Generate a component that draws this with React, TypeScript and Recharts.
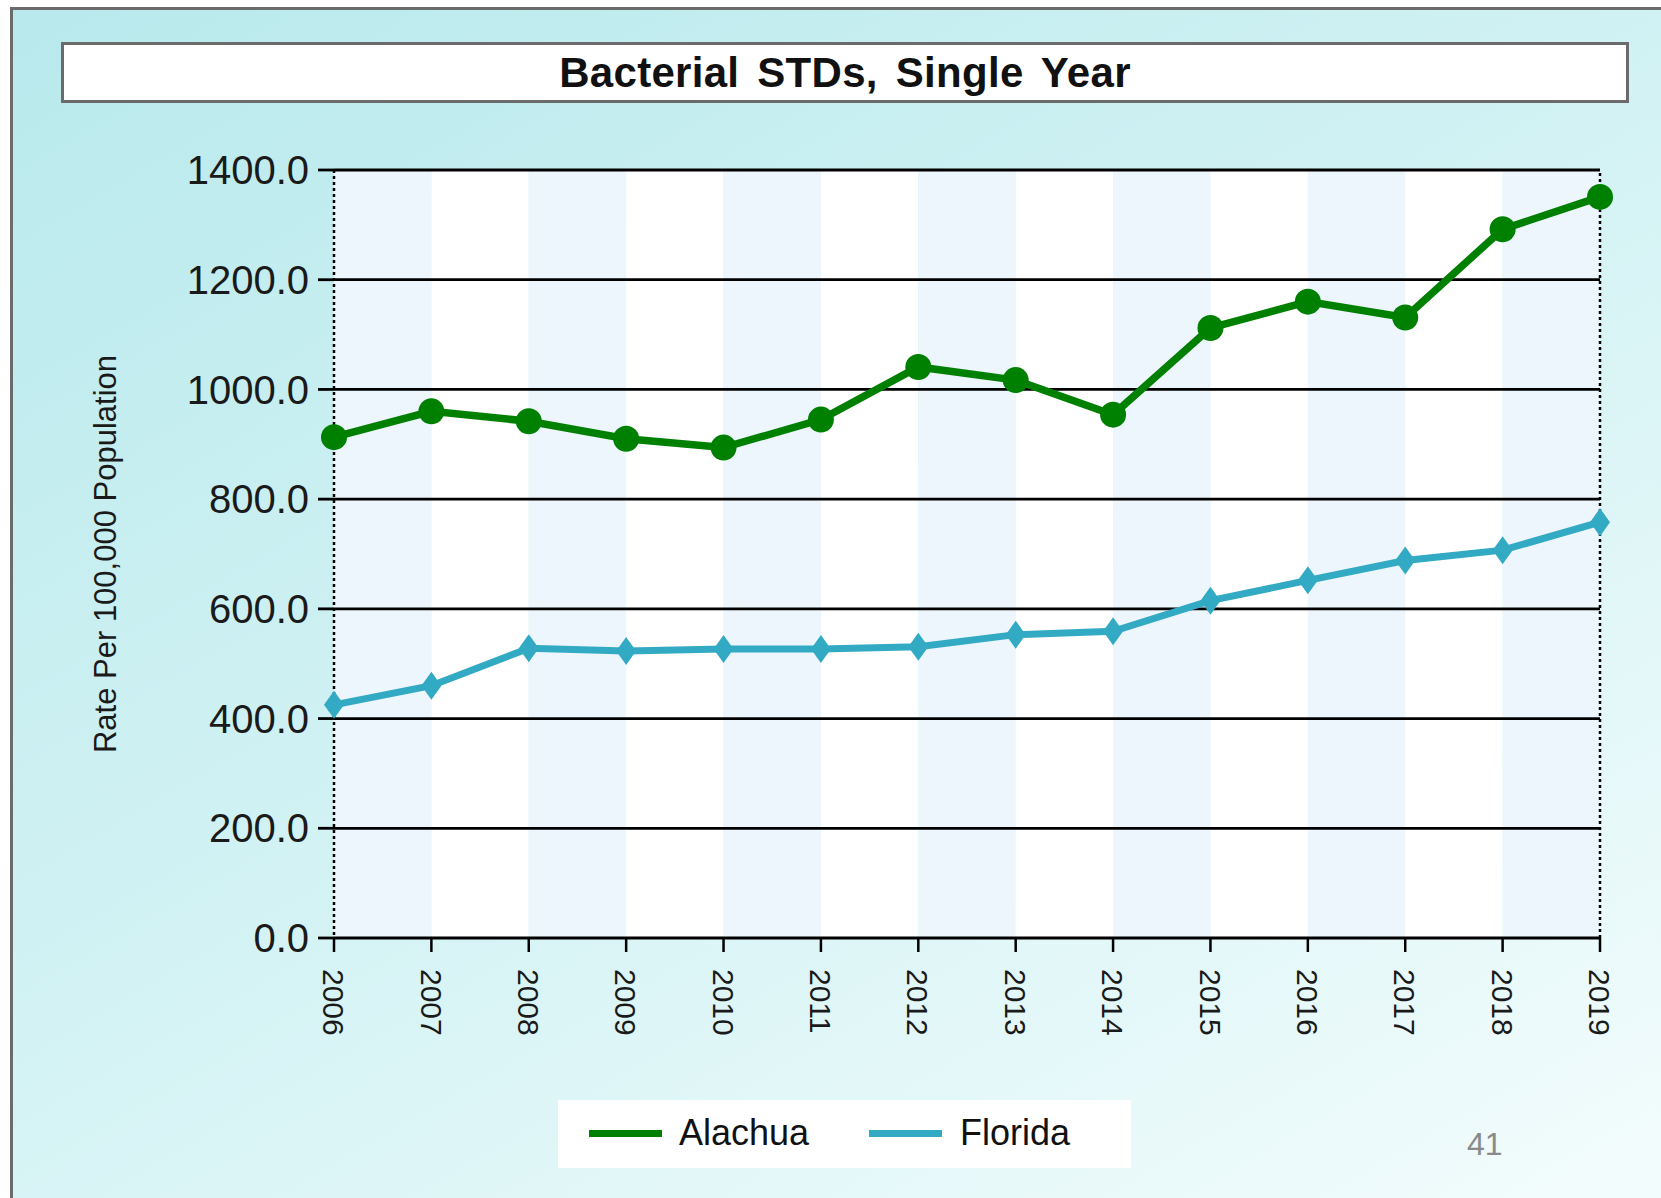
import React from "react";
import { LineChart, Line, XAxis, YAxis, ReferenceArea, ReferenceLine } from "recharts";

const years = [2006, 2007, 2008, 2009, 2010, 2011, 2012, 2013, 2014, 2015, 2016, 2017, 2018, 2019];
const alachua = [913, 960, 942, 910, 894, 945, 1041, 1017, 954, 1112, 1160, 1131, 1292, 1351];
const florida = [425, 460, 528, 523, 527, 527, 531, 553, 559, 615, 652, 688, 707, 758];
const yTicks = [0, 200, 400, 600, 800, 1000, 1200, 1400];
const seriesNames = ["Alachua", "Florida"];
const chartTitle = "Bacterial STDs, Single Year";
const yTitle = "Rate Per 100,000 Population";
const pageNumber = "41";

const GREEN = "#008000";
const TEAL = "#33aac4";
const BAND = "#edf6fd";
const FONT = "'Liberation Sans', Arial, sans-serif";

const data = years.map((year, i) => ({ year, alachua: alachua[i], florida: florida[i] }));

function YearTick(props: any) {
  const { x, y, payload } = props;
  return (
    <text
      transform={`translate(${x},${y + 15}) rotate(90)`}
      dy="0.36em"
      textAnchor="start"
      fontSize={30}
      fontFamily={FONT}
      fill="#1a1a1a"
    >
      {payload.value}
    </text>
  );
}

function Diamond(props: any) {
  const { cx, cy } = props;
  if (cx == null || cy == null) return null;
  return (
    <polygon
      points={`${cx},${cy - 14} ${cx + 10},${cy} ${cx},${cy + 14} ${cx - 10},${cy}`}
      fill={TEAL}
    />
  );
}

export default function App() {
  return (
    <div
      style={{
        position: "absolute",
        left: 0,
        top: 0,
        width: 1661,
        height: 1198,
        background: "#fff",
        overflow: "hidden",
        fontFamily: FONT,
      }}
    >
      {/* slide frame */}
      <div
        style={{
          position: "absolute",
          left: 10,
          top: 7,
          width: 1700,
          height: 1250,
          borderLeft: "3px solid #6b6b6b",
          borderTop: "3px solid #6b6b6b",
          background: "linear-gradient(150deg, #b8e9ec 0%, #d2f2f4 45%, #f6fdfd 100%)",
        }}
      />

      {/* title box */}
      <div
        style={{
          position: "absolute",
          left: 61,
          top: 42,
          width: 1568,
          height: 61,
          boxSizing: "border-box",
          border: "3px solid #6b6b6b",
          background: "#fff",
          display: "flex",
          alignItems: "center",
          justifyContent: "center",
          fontWeight: "bold",
          fontSize: 42,
          color: "#111",
          wordSpacing: 6,
          letterSpacing: 0.3,
        }}
      >
        {chartTitle}
      </div>

      <div style={{ position: "absolute", left: 0, top: 0 }}>
        <LineChart
          width={1661}
          height={1198}
          data={data}
          margin={{ top: 170, right: 61, bottom: 160, left: 254 }}
        >
          {years.slice(0, -1).map((yr, i) => (
            <ReferenceArea
              key={yr}
              x1={yr}
              x2={years[i + 1]}
              y1={0}
              y2={1400}
              fill={i % 2 === 0 ? BAND : "#ffffff"}
              fillOpacity={1}
              stroke="none"
              ifOverflow="visible"
            />
          ))}
          {yTicks.slice(1).map((t) => (
            <ReferenceLine key={t} y={t} stroke="#000" strokeWidth={2.8} ifOverflow="visible" />
          ))}
          <XAxis
            dataKey="year"
            type="number"
            domain={[2006, 2019]}
            ticks={years}
            interval={0}
            height={100}
            axisLine={{ stroke: "#000", strokeWidth: 3 }}
            tickLine={{ stroke: "#000", strokeWidth: 2.5 }}
            tickSize={14}
            tick={<YearTick />}
          />
          <YAxis
            domain={[0, 1400]}
            ticks={yTicks}
            interval={0}
            width={80}
            axisLine={{ stroke: "#000", strokeWidth: 2.5, strokeDasharray: "3 3" }}
            tickLine={{ stroke: "#000", strokeWidth: 2.8 }}
            tickSize={16}
            tickMargin={9}
            tickFormatter={(v: number) => v.toFixed(1)}
            tick={{ fontSize: 40, fill: "#1a1a1a", fontFamily: FONT }}
          />
          <ReferenceLine
            x={2019}
            stroke="#000"
            strokeWidth={2.5}
            strokeDasharray="3 3"
            ifOverflow="visible"
          />
          <Line
            dataKey="florida"
            name={seriesNames[1]}
            stroke={TEAL}
            strokeWidth={7}
            dot={<Diamond />}
            activeDot={false}
            isAnimationActive={false}
          />
          <Line
            dataKey="alachua"
            name={seriesNames[0]}
            stroke={GREEN}
            strokeWidth={7.5}
            dot={{ r: 13, fill: GREEN, strokeWidth: 0 }}
            activeDot={false}
            isAnimationActive={false}
          />
        </LineChart>
      </div>

      {/* y axis title */}
      <div
        style={{
          position: "absolute",
          left: 106,
          top: 554,
          transform: "translate(-50%, -50%) rotate(-90deg)",
          whiteSpace: "nowrap",
          fontSize: 31,
          color: "#1a1a1a",
        }}
      >
        {yTitle}
      </div>

      {/* legend */}
      <div
        style={{
          position: "absolute",
          left: 558,
          top: 1100,
          width: 573,
          height: 68,
          background: "#fff",
        }}
      >
        {[GREEN, TEAL].map((c, i) => (
          <React.Fragment key={i}>
            <div
              style={{
                position: "absolute",
                left: i === 0 ? 31 : 311,
                top: 30,
                width: 73,
                height: 7,
                background: c,
              }}
            />
            <div
              style={{
                position: "absolute",
                left: i === 0 ? 121 : 402,
                top: 12,
                fontSize: 36,
                lineHeight: "42px",
                color: "#111",
              }}
            >
              {seriesNames[i]}
            </div>
          </React.Fragment>
        ))}
      </div>

      {/* page number */}
      <div
        style={{
          position: "absolute",
          left: 1467,
          top: 1124,
          fontSize: 32,
          lineHeight: "40px",
          color: "#8a8a8a",
          fontFamily: "'Liberation Sans Narrow', 'Liberation Sans', Arial, sans-serif",
        }}
      >
        {pageNumber}
      </div>
    </div>
  );
}
